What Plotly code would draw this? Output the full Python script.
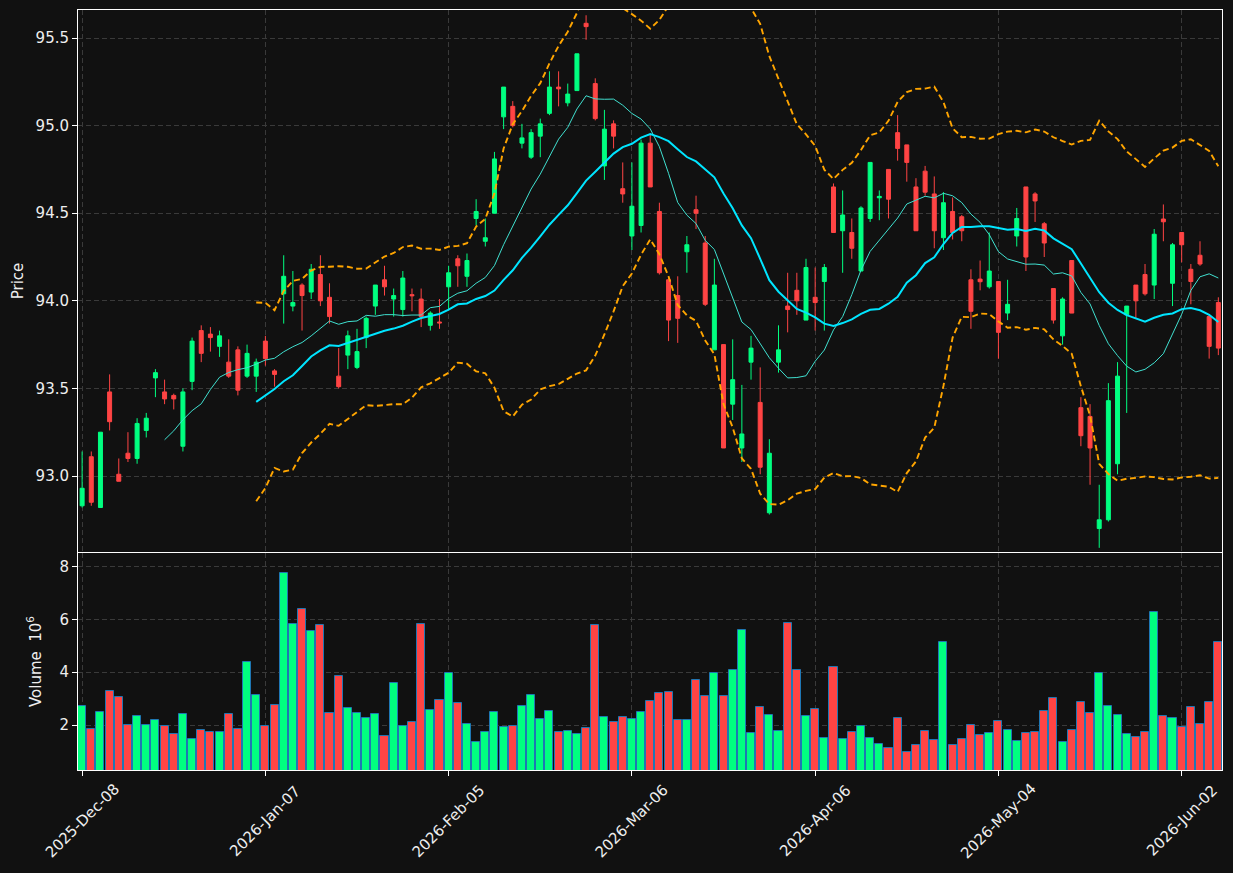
import pandas as pd
import plotly.graph_objects as go
from plotly.subplots import make_subplots

# ---------------- data ----------------
holidays = ["2025-12-25", "2026-01-01", "2026-01-19", "2026-02-16", "2026-04-03", "2026-05-25"]
dates = pd.bdate_range("2025-12-08", "2026-06-08", freq="C", holidays=holidays)

open_ = [92.83, 93.11, 92.82, 93.48, 93.01, 93.13, 93.10, 93.26, 93.56, 93.48,
         93.46, 93.17, 93.54, 93.83, 93.81, 93.74, 93.65, 93.72, 93.57, 93.57,
         93.77, 93.60, 94.04, 93.97, 94.09, 94.05, 94.15, 94.02, 93.57, 93.69,
         93.62, 93.79, 93.97, 94.12, 94.01, 93.95, 94.035, 94.01, 93.86, 93.879,
         94.08, 94.24, 94.14, 94.47, 94.34, 94.50, 95.05, 95.11, 94.90, 94.82,
         94.94, 95.07, 95.22, 95.13, 95.20, 95.584, 95.24, 94.77, 95.01, 94.64,
         94.37, 94.43, 94.90, 94.51, 94.12, 94.03, 94.28, 94.52, 94.33, 93.72,
         93.75, 93.41, 93.16, 93.65, 93.42, 92.79, 93.65, 93.97, 94.06, 93.89,
         94.02, 94.11, 94.65, 94.40, 94.39, 94.17, 94.47, 94.588, 94.75, 94.96,
         94.89, 94.65, 94.74, 94.61, 94.36, 94.51, 94.48, 94.12, 94.124, 94.08,
         94.11, 93.93, 94.37, 94.65, 94.61, 94.44, 94.07, 93.80, 94.23, 93.39,
         93.34, 92.70, 92.75, 93.07, 93.92, 94.09, 94.15, 94.09, 94.467, 94.10,
         94.39, 94.18, 94.26, 93.91, 93.99]
high = [93.14, 93.14, 93.25, 93.58, 93.10, 93.25, 93.33, 93.36, 93.61, 93.55,
        93.47, 93.50, 93.79, 93.86, 93.85, 93.83, 93.78, 93.74, 93.75, 93.67,
        93.80, 93.61, 94.26, 94.17, 94.10, 94.21, 94.26, 94.10, 93.73, 93.83,
        93.84, 93.91, 94.09, 94.20, 94.07, 94.17, 94.07, 94.07, 93.94, 94.01,
        94.20, 94.26, 94.27, 94.58, 94.47, 94.85, 95.22, 95.14, 95.01, 94.98,
        95.04, 95.31, 95.31, 95.24, 95.41, 95.63, 95.27, 95.09, 95.03, 94.79,
        94.79, 94.92, 94.95, 94.56, 94.14, 94.14, 94.37, 94.60, 94.37, 94.24,
        93.75, 93.78, 93.52, 93.80, 93.62, 93.21, 93.86, 94.16, 94.16, 94.24,
        94.19, 94.21, 94.67, 94.63, 94.47, 94.54, 94.79, 94.63, 94.75, 95.06,
        94.89, 94.70, 94.77, 94.71, 94.62, 94.59, 94.49, 94.18, 94.23, 94.39,
        94.11, 94.12, 94.53, 94.65, 94.62, 94.45, 94.07, 94.02, 94.23, 93.45,
        93.41, 92.95, 93.53, 93.65, 93.97, 94.09, 94.21, 94.41, 94.55, 94.33,
        94.39, 94.21, 94.34, 93.92, 94.02]
low = [92.82, 92.83, 92.82, 93.26, 92.97, 93.08, 93.07, 93.22, 93.45, 93.41,
       93.38, 93.14, 93.49, 93.65, 93.71, 93.68, 93.56, 93.46, 93.56, 93.48,
       93.63, 93.51, 93.87, 93.94, 93.83, 94.01, 93.97, 93.87, 93.50, 93.61,
       93.61, 93.73, 93.92, 94.03, 93.91, 93.91, 93.94, 93.85, 93.83, 93.84,
       93.95, 94.08, 94.08, 94.43, 94.31, 94.50, 94.98, 94.99, 94.87, 94.81,
       94.82, 95.06, 95.11, 95.11, 95.20, 95.49, 95.03, 94.69, 94.87, 94.56,
       94.29, 94.39, 94.65, 94.15, 93.77, 93.76, 94.16, 94.41, 93.97, 93.72,
       93.16, 93.32, 93.08, 93.55, 93.01, 92.78, 93.59, 93.82, 93.92, 93.89,
       93.83, 93.83, 94.39, 94.16, 94.24, 94.17, 94.45, 94.46, 94.47, 94.80,
       94.68, 94.40, 94.60, 94.30, 94.29, 94.35, 94.34, 93.84, 94.06, 94.07,
       93.67, 93.89, 94.31, 94.17, 94.45, 94.25, 93.87, 93.75, 93.93, 93.17,
       92.95, 92.59, 92.74, 93.01, 93.36, 93.90, 94.03, 94.01, 94.34, 93.97,
       94.22, 93.98, 94.20, 93.67, 93.69]
close = [92.93, 92.85, 93.25, 93.31, 92.97, 93.10, 93.30, 93.33, 93.59, 93.44,
         93.44, 93.48, 93.77, 93.70, 93.79, 93.80, 93.57, 93.49, 93.70, 93.65,
         93.67, 93.58, 94.14, 93.99, 94.03, 94.18, 94.00, 93.91, 93.51, 93.80,
         93.71, 93.90, 94.09, 94.08, 94.03, 94.13, 94.029, 93.91, 93.93, 93.874,
         94.16, 94.20, 94.23, 94.51, 94.36, 94.81, 95.22, 95.00, 94.93, 94.96,
         95.01, 95.22, 95.21, 95.18, 95.41, 95.565, 95.04, 94.98, 94.94, 94.61,
         94.54, 94.90, 94.65, 94.16, 93.89, 93.90, 94.32, 94.50, 93.98, 94.09,
         93.16, 93.55, 93.24, 93.73, 93.05, 93.13, 93.72, 93.95, 94.00, 94.19,
         93.99, 94.19, 94.39, 94.49, 94.30, 94.53, 94.79, 94.596, 94.58, 94.87,
         94.79, 94.40, 94.62, 94.40, 94.56, 94.39, 94.40, 93.94, 94.109, 94.17,
         93.82, 93.98, 94.47, 94.25, 94.57, 94.33, 93.89, 94.01, 93.93, 93.23,
         93.16, 92.75, 93.43, 93.57, 93.97, 94.00, 94.04, 94.38, 94.451, 94.32,
         94.32, 94.11, 94.21, 93.74, 93.73]
volume = [2.74, 1.85, 2.49, 3.28, 3.06, 2.00, 2.34, 2.00, 2.19, 1.96,
          1.66, 2.42, 1.47, 1.81, 1.74, 1.74, 2.42, 1.85, 4.38, 3.13,
          1.96, 2.75, 7.74, 5.81, 6.38, 5.55, 5.77, 2.45, 3.85, 2.64,
          2.45, 2.26, 2.42, 1.58, 3.58, 1.96, 2.11, 5.81, 2.57, 2.94,
          3.96, 2.83, 2.04, 1.36, 1.74, 2.49, 1.92, 1.96, 2.72, 3.13,
          2.23, 2.53, 1.74, 1.77, 1.66, 1.89, 5.77, 2.30, 2.11, 2.30,
          2.23, 2.49, 2.91, 3.21, 3.25, 2.19, 2.19, 3.70, 3.09, 3.96,
          3.09, 4.08, 5.58, 1.70, 2.68, 2.38, 1.77, 5.85, 4.08, 2.34,
          2.60, 1.51, 4.19, 1.47, 1.74, 1.96, 1.51, 1.28, 1.13, 2.26,
          0.98, 1.25, 1.77, 1.43, 5.13, 1.25, 1.47, 2.00, 1.62, 1.70,
          2.15, 1.81, 1.40, 1.70, 1.74, 2.53, 3.02, 1.36, 1.81, 2.87,
          2.45, 3.96, 2.72, 2.38, 1.66, 1.55, 1.74, 6.26, 2.34, 2.26,
          1.92, 2.68, 2.04, 2.87, 5.13]

tick_idx = [0, 20, 40, 60, 80, 100, 120]
tick_labels = [dates[i].strftime("%Y-%b-%d") for i in tick_idx]

# ---------------- styles ----------------
BG = "#111111"
UP = "#00ff80"
DOWN = "#ff4444"
GRID = "#3a3a3a"
TXT = "#eeeeee"
FONT = "DejaVu Sans"

x = list(range(len(close)))
cs = pd.Series(close)
ma10 = cs.rolling(10).mean()
ma20 = cs.rolling(20).mean()
sd20 = cs.rolling(20).std(ddof=0)
bb_up = ma20 + 2 * sd20
bb_lo = ma20 - 2 * sd20
vol_colors = [UP if c >= o else DOWN for o, c in zip(open_, close)]

fig = make_subplots(rows=2, cols=1, shared_xaxes=True, vertical_spacing=0.001)

fig.add_trace(go.Candlestick(
    x=x, open=open_, high=high, low=low, close=close,
    increasing=dict(line=dict(color=UP, width=1), fillcolor=UP),
    decreasing=dict(line=dict(color=DOWN, width=1), fillcolor=DOWN),
    whiskerwidth=0, showlegend=False), row=1, col=1)

fig.add_trace(go.Scatter(x=x, y=ma10, mode="lines",
                         line=dict(color="#40e0d0", width=1), showlegend=False), row=1, col=1)
fig.add_trace(go.Scatter(x=x, y=ma20, mode="lines",
                         line=dict(color="#00e5ff", width=2), showlegend=False), row=1, col=1)
fig.add_trace(go.Scatter(x=x, y=bb_up, mode="lines",
                         line=dict(color="#ffa500", width=1.9, dash="6px,3.5px"), showlegend=False), row=1, col=1)
fig.add_trace(go.Scatter(x=x, y=bb_lo, mode="lines",
                         line=dict(color="#ffa500", width=1.9, dash="6px,3.5px"), showlegend=False), row=1, col=1)

fig.add_trace(go.Bar(x=x, y=volume, marker=dict(color=vol_colors, line=dict(color="#1f77b4", width=1)),
                     width=0.88, showlegend=False), row=2, col=1)

axis_common = dict(showline=True, mirror=True, linecolor="white", linewidth=1,
                   ticks="outside", tickcolor="white", ticklen=5,
                   showgrid=True, gridcolor=GRID, griddash="5px,3px", gridwidth=1,
                   zeroline=False, tickfont=dict(family=FONT, size=15, color=TXT))

fig.update_layout(
    width=1233, height=873,
    margin=dict(l=78, r=11, t=10, b=103),
    paper_bgcolor=BG, plot_bgcolor=BG,
    font=dict(family=FONT, size=15, color=TXT),
    boxgap=0.38,
    bargap=0,
    showlegend=False,
)
fig.update_xaxes(axis_common)
fig.update_yaxes(axis_common)
fig.update_xaxes(range=[-0.45, 124.4], tickvals=tick_idx, ticktext=tick_labels,
                 rangeslider=dict(visible=False))
fig.update_xaxes(showticklabels=False, ticks="", row=1, col=1)
fig.update_xaxes(showticklabels=False, row=2, col=1)
fig.update_yaxes(domain=[0.2868, 1.0], range=[92.566, 95.66],
                 tickvals=[93.0, 93.5, 94.0, 94.5, 95.0, 95.5],
                 ticktext=["93.0", "93.5", "94.0", "94.5", "95.0", "95.5"],
                 title=dict(text="Price", font=dict(family=FONT, size=15, color=TXT), standoff=8),
                 row=1, col=1)
fig.update_yaxes(domain=[0.0, 0.2855], range=[0.31, 8.5], tickvals=[2, 4, 6, 8],
                 title=dict(text="Volume  10<sup>6</sup>", font=dict(family=FONT, size=15, color=TXT), standoff=14),
                 row=2, col=1)

# rotated date labels centred under their ticks (matplotlib style)
for i, lab in zip(tick_idx, tick_labels):
    fig.add_annotation(x=i, xref="x2", y=0, yref="paper", text=lab, showarrow=False,
                       textangle=-45, xanchor="center", yanchor="middle", yshift=-51,
                       font=dict(family=FONT, size=15, color=TXT))

fig.write_html("out.html")
